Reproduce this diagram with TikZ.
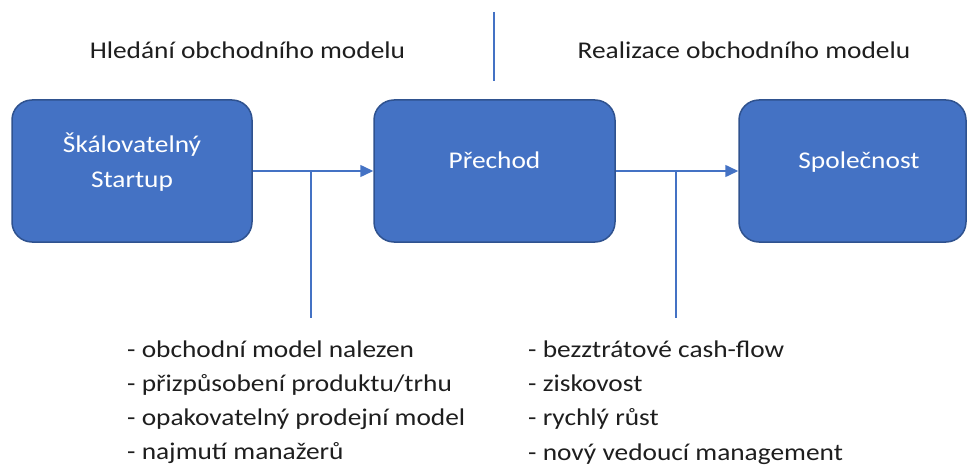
\documentclass[tikz,border=0pt]{standalone}
\usepackage{fontspec}
\setmainfont{Carlito}[FakeStretch=1.14]
\usetikzlibrary{arrows.meta}

\definecolor{boxfill}{HTML}{4472C4}
\definecolor{boxline}{HTML}{2F528F}
\definecolor{linkblue}{HTML}{4472C4}
\definecolor{inktext}{HTML}{1E1E1E}

\tikzset{
  stagebox/.style={draw=boxline, line width=1.5pt, fill=boxfill,
    rounded corners=20pt, inner sep=0pt},
  boxlabel/.style={text=white, font=\fontsize{24}{29}\selectfont,
    inner sep=0pt, anchor=base},
  header/.style={text=inktext, font=\fontsize{24}{29}\selectfont,
    inner sep=0pt, anchor=base},
  item/.style={text=inktext, font=\fontsize{24}{29}\selectfont,
    inner sep=0pt, anchor=base west},
  link/.style={draw=linkblue, line width=1.5pt},
  linkarrow/.style={link, -{Triangle[length=13pt, width=12pt]}},
}

\begin{document}
\begin{tikzpicture}[x=1pt, y=-1pt]
  \useasboundingbox (0,0) rectangle (968,468);

  % phase headings and the divider between them
  \node[header] (hfind) at (247.5,59) {Hledání obchodního modelu};
  \node[header] (hreal) at (744,59) {Realizace obchodního modelu};
  \coordinate (dtop) at (494,12);
  \coordinate (dbot) at (494,81);
  \draw[link, line width=1.3pt] (dtop) -- (dbot);

  % the three stages
  \node[stagebox, minimum width=240pt, minimum height=142pt] (b1) at (132,171) {};
  \node[stagebox, minimum width=241pt, minimum height=142pt] (b2) at (494.5,171) {};
  \node[stagebox, minimum width=227pt, minimum height=142pt] (b3) at (852.5,171) {};

  \node[boxlabel] (t1a) at (132,152) {Škálovatelný};
  \node[boxlabel] (t1b) at (132,187) {Startup};
  \node[boxlabel] (t2) at (494.5,168) {Přechod};
  \node[boxlabel] (t3) at (859,168) {Společnost};

  % transitions with their branch lines
  \draw[linkarrow] (b1.east) -- (b2.west);
  \draw[linkarrow] (b2.east) -- (b3.west);
  \coordinate (j1) at (311,171);
  \coordinate (e1) at (311,318);
  \coordinate (j2) at (676,171);
  \coordinate (e2) at (676,318);
  \draw[link] (j1) -- (e1);
  \draw[link] (j2) -- (e2);

  % conditions for each transition
  \node[item] (l1) at (127,357) {- obchodní model nalezen};
  \node[item] (l2) at (127,391) {- přizpůsobení produktu/trhu};
  \node[item] (l3) at (127,425) {- opakovatelný prodejní model};
  \node[item] (l4) at (127,459) {- najmutí manažerů};

  \node[item] (r1) at (528,357) {- bezztrátové cash-flow};
  \node[item] (r2) at (528,391) {- ziskovost};
  \node[item] (r3) at (528,425) {- rychlý růst};
  \node[item] (r4) at (528,460) {- nový vedoucí management};
\end{tikzpicture}
\end{document}
